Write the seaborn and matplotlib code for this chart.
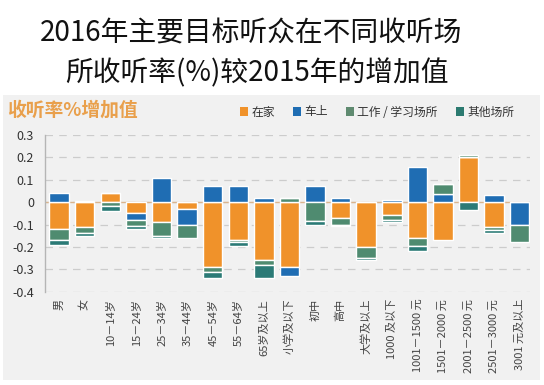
import numpy as np
import pandas as pd
import matplotlib
matplotlib.use("Agg")
import matplotlib.pyplot as plt
import seaborn as sns
from matplotlib.patches import Rectangle, Patch

sns.set_theme(style="white")
plt.rcParams['font.family'] = ['Noto Sans CJK SC', 'DejaVu Sans']
plt.rcParams['axes.unicode_minus'] = False

title_lines = ["2016年主要目标听众在不同收听场", "所收听率(%)较2015年的增加值"]
subtitle = "收听率%增加值"

categories = ["男", "女", "10－14岁", "15－24岁", "25－34岁", "35－44岁", "45－54岁",
              "55－64岁", "65岁及以上", "小学及以下", "初中", "高中", "大学及以上",
              "1000 及以下", "1001－1500 元", "1501－2000 元", "2001－2500 元",
              "2501－3000 元", "3001 元及以上"]

series_names = ["在家", "车上", "工作 / 学习场所", "其他场所"]
home  = [-0.12, -0.11, 0.04, -0.048, -0.09, -0.03, -0.29, -0.17, -0.26, -0.29, 0.0,
         -0.07, -0.20, -0.058, -0.16, -0.167, 0.20, -0.11, 0.0]
car   = [0.04, 0.005, 0.0, -0.03, 0.11, -0.07, 0.07, 0.07, 0.02, -0.04, 0.07,
         0.02, 0.0, 0.01, 0.155, 0.035, 0.0, 0.03, -0.10]
work  = [-0.05, -0.03, -0.018, -0.028, -0.06, -0.06, -0.02, -0.01, -0.02, 0.02, -0.085,
         -0.03, -0.05, -0.02, -0.035, 0.047, 0.012, -0.015, -0.08]
other = [-0.02, -0.01, -0.02, -0.012, -0.01, 0.0, -0.03, -0.018, -0.058, 0.0, -0.015,
         -0.007, -0.01, -0.012, -0.025, 0.0, -0.037, -0.015, 0.0]

yticks = [0.3, 0.2, 0.1, 0, -0.1, -0.2, -0.3, -0.4]
ytick_labels = ["0.3", "0.2", "0.1", "0", "-0.1", "-0.2", "-0.3", "-0.4"]

colors = ["#f0922a", "#1f6db3", "#4f8b70", "#2b7a76"]
legend_colors = ["#f0922a", "#1f6db3", "#5f8a70", "#2b7a70"]

W, H = 544, 385
fig = plt.figure(figsize=(W / 100, H / 100), dpi=100)
fig.patch.set_facecolor("white")

# gray panel
fig.add_artist(Rectangle((3 / W, 1 - 380 / H), 537 / W, 285 / H, transform=fig.transFigure,
                         facecolor="#f1f1f1", edgecolor="none", zorder=0))

ax = fig.add_axes([45 / W, 1 - 291.7 / H, (530 - 45) / W, (291.7 - 135) / H])
ax.set_facecolor("none")

pos_b = np.zeros(len(categories))
neg_b = np.zeros(len(categories))
for name, vals, c in zip(series_names, [home, car, work, other], colors):
    v = np.array(vals, dtype=float)
    bottom = np.where(v >= 0, pos_b, neg_b)
    df = pd.DataFrame({"cat": categories, "val": v})
    sns.barplot(data=df, x="cat", y="val", order=categories, color=c, width=0.76,
                bottom=bottom, errorbar=None, ax=ax, zorder=3, saturation=1)
    pos_b = pos_b + np.where(v >= 0, v, 0)
    neg_b = neg_b + np.where(v < 0, v, 0)

ax.set_ylim(-0.4, 0.3)
ax.set_xlim(-0.55, len(categories) - 0.6)
ax.set_yticks(yticks)
ax.set_yticklabels(ytick_labels, fontsize=9, color="#333333")
ax.yaxis.grid(True, linestyle=(0, (6, 5)), color="#cccccc", linewidth=0.9)
ax.set_axisbelow(True)
ax.axhline(0, color="#d9b48e", linewidth=1.0, zorder=2)
for s in ["top", "right", "bottom"]:
    ax.spines[s].set_visible(False)
ax.spines["left"].set_color("#b5b5b5")
ax.spines["left"].set_linewidth(1.0)
ax.tick_params(axis="y", length=0, pad=8)
ax.tick_params(axis="x", length=0, pad=5)
ax.set_xticks(range(len(categories)))
ax.set_xticklabels(categories, rotation=90, fontsize=8, color="#444444", va="top")
ax.set_xlabel("")
ax.set_ylabel("")

# titles
fig.text(40 / W, 1 - 33 / H, title_lines[0], fontsize=20, color="#111111", ha="left",
         va="center", fontweight="medium")
fig.text(65 / W, 1 - 73 / H, title_lines[1], fontsize=20, color="#111111", ha="left",
         va="center", fontweight="medium")
fig.text(7 / W, 1 - 110 / H, subtitle, fontsize=13.5, color="#e9a04c", fontweight="bold",
         ha="left", va="center")

handles = [Patch(facecolor=c, edgecolor="none") for c in legend_colors]
fig.legend(handles, series_names, loc="center", bbox_to_anchor=(377 / W, 1 - 112 / H),
           ncol=4, frameon=False, fontsize=8.5, handlelength=0.7, handleheight=0.7,
           handletextpad=0.3, columnspacing=1.5, labelcolor="#333333")

fig.savefig("out.png", dpi=100, facecolor="white")
